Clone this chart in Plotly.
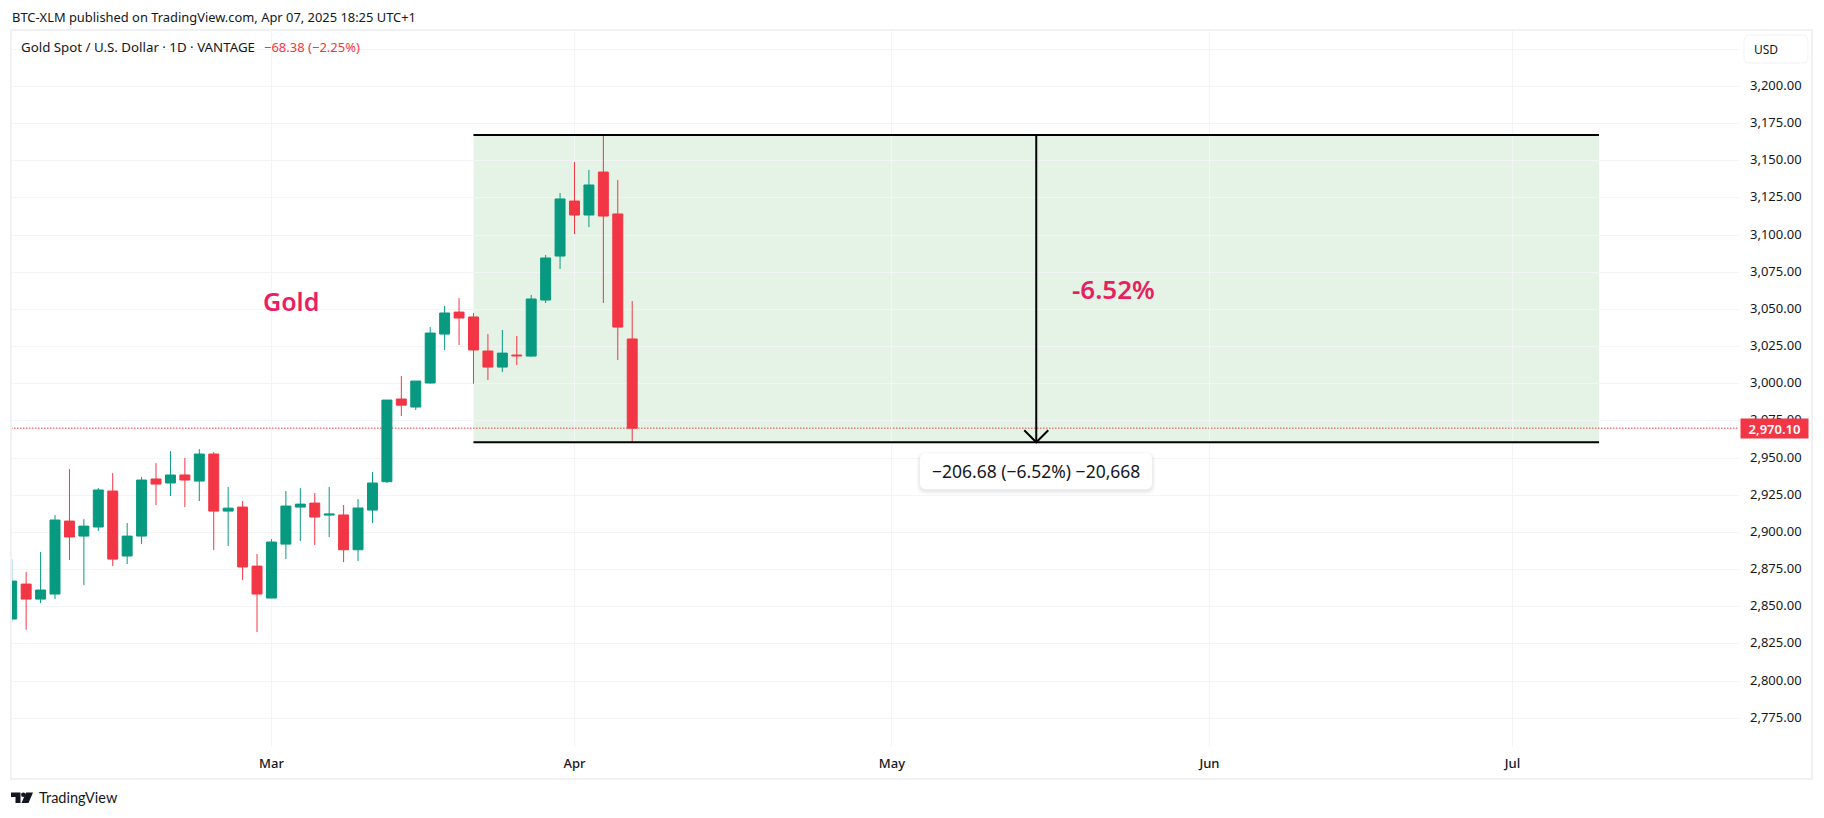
import pandas as pd
import plotly.graph_objects as go

# Daily candles
dates = ["2025-02-05", "2025-02-06", "2025-02-07", "2025-02-10", "2025-02-11", "2025-02-12", "2025-02-13",
         "2025-02-14", "2025-02-17", "2025-02-18", "2025-02-19", "2025-02-20", "2025-02-21", "2025-02-24",
         "2025-02-25", "2025-02-26", "2025-02-27", "2025-02-28", "2025-03-03", "2025-03-04", "2025-03-05",
         "2025-03-06", "2025-03-07", "2025-03-10", "2025-03-11", "2025-03-12", "2025-03-13", "2025-03-14",
         "2025-03-17", "2025-03-18", "2025-03-19", "2025-03-20", "2025-03-21", "2025-03-24", "2025-03-25",
         "2025-03-26", "2025-03-27", "2025-03-28", "2025-03-31", "2025-04-01", "2025-04-02", "2025-04-03",
         "2025-04-04", "2025-04-07"]
opens = [2841.7, 2865.2, 2855.1, 2858.5, 2907.6, 2897.5, 2903.6, 2927.8, 2884.1, 2897.5, 2935.9,
         2933.2, 2938.6, 2934.5, 2952.7, 2914.3, 2917.0, 2877.3, 2855.8, 2892.1, 2917.0, 2919.7,
         2911.6, 2911.7, 2888.3, 2915.0, 2934.1, 2989.7, 2984.3, 3000.5, 3033.4, 3048.2, 3044.9,
         3022.0, 3011.2, 3019.3, 3018.6, 3056.3, 3085.9, 3122.9, 3113.5, 3142.4, 3114.2, 3030.1]
highs = [2882.0, 2873.3, 2886.8, 2911.6, 2942.6, 2908.9, 2929.8, 2939.9, 2906.3, 2937.2, 2946.6,
         2954.7, 2950.0, 2956.0, 2954.0, 2930.5, 2921.1, 2885.4, 2895.5, 2927.8, 2929.8, 2926.5,
         2930.5, 2918.4, 2922.4, 2940.6, 2989.0, 3005.2, 3001.8, 3038.1, 3052.3, 3057.6, 3047.6,
         3033.4, 3036.1, 3032.1, 3059.7, 3086.6, 3128.3, 3149.1, 3143.8, 3168.0, 3137.0, 3055.6]
lows = [2839.9, 2834.5, 2852.4, 2855.1, 2881.4, 2864.5, 2900.9, 2877.3, 2878.7, 2892.1, 2918.4,
        2924.4, 2917.0, 2921.1, 2888.1, 2890.8, 2867.9, 2832.9, 2855.8, 2882.0, 2894.2, 2891.5,
        2896.9, 2880.0, 2880.7, 2906.3, 2933.2, 2978.3, 2982.3, 3000.0, 3022.7, 3026.0, 3000.0,
        3002.5, 3007.9, 3012.6, 3018.0, 3054.3, 3077.2, 3100.7, 3105.4, 3054.3, 3015.9, 2960.7]
closes = [2867.2, 2855.1, 2861.2, 2908.3, 2896.9, 2904.2, 2928.5, 2882.0, 2897.5, 2935.2, 2932.5,
          2938.6, 2935.2, 2952.7, 2914.3, 2916.3, 2876.7, 2858.5, 2893.5, 2917.7, 2919.0, 2910.3,
          2912.3, 2888.3, 2916.4, 2933.2, 2989.0, 2985.6, 3001.8, 3034.1, 3047.6, 3044.2, 3022.7,
          3011.2, 3020.6, 3018.8, 3057.0, 3084.6, 3124.3, 3113.5, 3133.7, 3112.8, 3038.1, 2970.1]

month_ticks = ["2025-03-03", "2025-04-01", "2025-05-01", "2025-06-02", "2025-07-01"]
month_labels = ["Mar", "Apr", "May", "Jun", "Jul"]

price_ticks = [2775, 2800, 2825, 2850, 2875, 2900, 2925, 2950, 2975, 3000, 3025, 3050, 3075, 3100,
               3125, 3150, 3175, 3200, 3225]
price_labels = [f"{p:,.2f}" for p in price_ticks[:-1]] + [""]

last_price = 2970.10
range_top = 3167.3
range_bottom = 2960.62
range_start = "2025-03-21"
range_mid = "2025-05-15"
range_end = "2025-07-09"

GREEN = "#089981"
RED = "#F23645"
PINK = "#E91E63"
INK = "#131722"
GRID = "#F3F4F6"
FRAME = "#F0F1F4"
FONT = "Noto Sans"

W, H = 1824, 818
L, R, T, B = 11, 85, 31, 71


# page pixels to paper fractions, for the furniture around the chart
def px(x):
    return (x - L) / (W - L - R)


def py(y):
    return 1 - (y - T) / (H - T - B)


def rounded(x0, y0, x1, y1, r):
    return (f"M{px(x0 + r)},{py(y0)} L{px(x1 - r)},{py(y0)} Q{px(x1)},{py(y0)} {px(x1)},{py(y0 + r)} "
            f"L{px(x1)},{py(y1 - r)} Q{px(x1)},{py(y1)} {px(x1 - r)},{py(y1)} "
            f"L{px(x0 + r)},{py(y1)} Q{px(x0)},{py(y1)} {px(x0)},{py(y1 - r)} "
            f"L{px(x0)},{py(y0 + r)} Q{px(x0)},{py(y0)} {px(x0 + r)},{py(y0)} Z")


def poly(points):
    return "M" + " L".join(f"{px(x)},{py(y)}" for x, y in points) + " Z"


def label(text, x, y, size, color=INK, anchor="left", weight=400, family=FONT):
    return dict(text=text, x=px(x), y=py(y), xref="paper", yref="paper", xanchor=anchor, yanchor="middle",
                showarrow=False, borderpad=0, font=dict(family=family, size=size, color=color, weight=weight))


# every weekday gets a slot, the future part of the axis is empty like in the original
all_days = pd.bdate_range("2025-02-05", "2025-07-31").strftime("%Y-%m-%d").tolist()

fig = go.Figure()

fig.add_trace(go.Candlestick(
    x=dates, open=opens, high=highs, low=lows, close=closes,
    whiskerwidth=0,
    increasing=dict(line=dict(color=GREEN, width=1), fillcolor=GREEN),
    decreasing=dict(line=dict(color=RED, width=1), fillcolor=RED),
    hoverinfo="skip",
    showlegend=False,
))

shapes = [
    # measured range
    dict(type="rect", xref="x", yref="y", x0=range_start, x1=range_end, y0=range_bottom, y1=range_top,
         fillcolor="rgba(76,175,80,0.15)", line_width=0, layer="below"),
    # last price
    dict(type="line", xref="paper", yref="y", x0=0, x1=1, y0=last_price, y1=last_price,
         line=dict(color=RED, width=1, dash="1.5px,1.5px"), layer="below"),
    dict(type="line", xref="x", yref="y", x0=range_start, x1=range_end, y0=range_top, y1=range_top,
         line=dict(color="#000000", width=2)),
    dict(type="line", xref="x", yref="y", x0=range_start, x1=range_end, y0=range_bottom, y1=range_bottom,
         line=dict(color="#000000", width=2)),
    dict(type="line", xref="x", yref="y", x0=range_mid, x1=range_mid, y0=range_bottom, y1=range_top,
         line=dict(color="#000000", width=2)),
    dict(type="path", xref="x", yref="y", xsizemode="pixel", ysizemode="pixel", xanchor=range_mid,
         yanchor=range_bottom, path="M -12 12 L 0 0 L 12 12", line=dict(color="#000000", width=2)),
    # outer frame
    dict(type="rect", xref="paper", yref="paper", x0=px(11), x1=px(1812), y0=py(779), y1=py(30),
         line=dict(color=FRAME, width=2)),
    # USD button
    dict(type="path", xref="paper", yref="paper", path=rounded(1744, 35, 1808, 63, 6),
         fillcolor="#FFFFFF", line=dict(color=FRAME, width=1)),
]

# soft shadow then the white box of the measure label
for grow, alpha in [(4, 0.012), (3, 0.016), (2, 0.02), (1, 0.03)]:
    shapes.append(dict(type="path", xref="paper", yref="paper",
                       path=rounded(920 - grow, 453 - grow + 2, 1152 + grow, 489 + grow + 2, 6 + grow),
                       fillcolor=f"rgba(19,23,34,{alpha})", line_width=0))
shapes.append(dict(type="path", xref="paper", yref="paper", path=rounded(920, 453, 1152, 489, 6),
                   fillcolor="#FFFFFF", line_width=0))

# TradingView logo
logo = [
    [(11, 792.5), (20.5, 792.5), (20.5, 803), (15.5, 803), (15.5, 797), (11, 797)],
    [(26, 792.5), (33, 792.5), (28.5, 803), (21.5, 803)],
]
for part in logo:
    shapes.append(dict(type="path", xref="paper", yref="paper", path=poly(part), fillcolor=INK, line_width=0))
shapes.append(dict(type="circle", xref="paper", yref="paper", x0=px(21.1), x1=px(25.5), y0=py(796.9), y1=py(792.5),
                   fillcolor=INK, line_width=0))

annotations = [
    label("BTC-XLM published on TradingView.com, Apr 07, 2025 18:25 UTC+1", 11, 17, 12.9),
    label("Gold Spot / U.S. Dollar · 1D · VANTAGE", 19.5, 47, 13.3),
    label("−68.38 (−2.25%)", 263, 47, 13, color=RED),
    label("USD", 1753, 49, 12),
    label("Gold", 290.5, 301, 25, color=PINK, anchor="center", weight=600),
    label("-6.52%", 1113, 289, 26, color=PINK, anchor="center", weight=600),
    label("−206.68 (−6.52%) −20,668", 1036, 471, 17.5, anchor="center"),
    label("TradingView", 38, 797, 14.5, family="Lato"),
    dict(text=f"{last_price:,.2f}", x=1, xshift=1, y=last_price, xref="paper", yref="y", xanchor="left",
         yanchor="middle", showarrow=False, bgcolor=RED, width=67, height=19, borderpad=0, align="center",
         font=dict(family=FONT, size=13, color="#FFFFFF", weight=600)),
]

fig.update_layout(
    width=W,
    height=H,
    margin=dict(l=L, r=R, t=T, b=B),
    paper_bgcolor="#FFFFFF",
    plot_bgcolor="#FFFFFF",
    boxgap=0.31,
    boxgroupgap=0,
    dragmode=False,
    shapes=shapes,
    annotations=annotations,
    font=dict(family=FONT, color=INK),
)
fig.update_xaxes(
    type="category",
    categoryorder="array",
    categoryarray=all_days,
    range=[-0.05, 119.7],
    rangeslider_visible=False,
    tickmode="array",
    tickvals=month_ticks,
    ticktext=month_labels,
    tickangle=0,
    ticks="",
    ticklabelstandoff=7,
    tickfont=dict(family=FONT, size=13, color=INK, weight=500),
    showgrid=True,
    gridcolor=GRID,
    gridwidth=1,
    showline=False,
    zeroline=False,
)
fig.update_yaxes(
    side="right",
    range=[2755.6, 3237.3],
    tickmode="array",
    tickvals=price_ticks,
    ticktext=price_labels,
    ticks="",
    ticklabelstandoff=10,
    ticklabelshift=-1,
    tickfont=dict(family=FONT, size=13, color=INK),
    showgrid=True,
    gridcolor=GRID,
    gridwidth=1,
    showline=False,
    zeroline=False,
)

fig.write_html("out.html", config=dict(displayModeBar=False),
               post_script="document.body.style.margin='0';")
print("Plot saved as out.html")
